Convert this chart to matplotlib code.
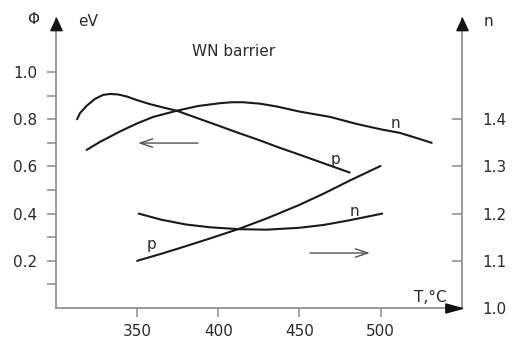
import matplotlib
matplotlib.use("Agg")
import matplotlib.pyplot as plt
from matplotlib.path import Path

# ---- data ----
T_p_upper = [313, 314.8, 318.9, 324.0, 329.0, 333.3, 338.2, 343.8, 349.9, 357.9, 365.9,
             374.4, 387, 400, 412, 425, 437, 450, 465, 481]
phi_p_upper = [0.800, 0.826, 0.857, 0.886, 0.903, 0.907, 0.905, 0.896, 0.881, 0.864, 0.850,
               0.836, 0.805, 0.773, 0.743, 0.712, 0.681, 0.650, 0.613, 0.574]

T_n_upper = [318.9, 327.1, 339.4, 349.9, 360.0, 374.4, 387.5, 401.1, 408.5, 415.2, 425.6,
             436.0, 450.4, 468.8, 485.3, 499.6, 512.0, 522.4, 531.5]
n_upper = [1.335, 1.352, 1.374, 1.391, 1.405, 1.418, 1.428, 1.434, 1.436, 1.436, 1.433,
           1.427, 1.416, 1.405, 1.390, 1.379, 1.371, 1.360, 1.350]

T_p_lower = [350, 365, 380, 395, 413, 430, 450, 465, 481, 500]
phi_p_lower = [0.200, 0.230, 0.262, 0.295, 0.336, 0.380, 0.437, 0.485, 0.540, 0.602]

T_n_lower = [351, 365, 380, 395, 413, 430, 450, 465, 481, 501]
n_lower = [1.200, 1.187, 1.177, 1.171, 1.167, 1.166, 1.170, 1.176, 1.186, 1.200]

x_ticks = [350, 400, 450, 500]
phi_major = [0.2, 0.4, 0.6, 0.8, 1.0]
phi_minor = [0.1, 0.3, 0.5, 0.7, 0.9]
n_ticks = [1.0, 1.1, 1.2, 1.3, 1.4]

# ---- figure ----
W, H = 514, 338
fig = plt.figure(figsize=(W / 100, H / 100), dpi=100)
plt.rcParams['font.family'] = ['DejaVu Sans']

ax_left, ax_right_px, ax_bottom_px, ax_top_px = 56, 461.7, 308, 18
ax = fig.add_axes([ax_left / W, 1 - ax_bottom_px / H,
                   (ax_right_px - ax_left) / W, (ax_bottom_px - ax_top_px) / H])
axc = '#8a8a8a'
txtc = '#2a2a2a'
fs = 11

ax.set_xlim(300, 550)
ymax = 1.229
ax.set_ylim(0, ymax)

ax2 = ax.twinx()
ax2.set_ylim(1.0, 1.0 + ymax / 2)

for a in (ax, ax2):
    for s in a.spines.values():
        s.set_visible(False)
    a.patch.set_visible(False)

ax.spines['left'].set_visible(True)
ax.spines['bottom'].set_visible(True)
ax2.spines['right'].set_visible(True)
for s in (ax.spines['left'], ax.spines['bottom'], ax2.spines['right']):
    s.set_color(axc)
    s.set_linewidth(1.2)

ax.set_xticks(x_ticks)
ax.set_xticklabels([str(v) for v in x_ticks])
ax.set_yticks(phi_major)
ax.set_yticklabels([f"{v:.1f}" for v in phi_major])
ax.set_yticks(phi_minor, minor=True)
ax.tick_params(axis='y', which='both', direction='out', length=6.5, width=1.1,
               color=axc, pad=7, labelsize=fs, labelcolor=txtc)
ax.tick_params(axis='x', which='both', direction='out', length=6.3, width=1.1,
               color=axc, pad=5.5, labelsize=fs, labelcolor=txtc)
ax2.set_yticks(n_ticks)
ax2.set_yticklabels([f"{v:.1f}" for v in n_ticks])
ax2.tick_params(axis='y', direction='in', length=7, width=1.1, color=axc,
                pad=15, labelsize=fs, labelcolor=txtc)

# axis arrowheads
up_head = Path([(0, 0), (-0.46, -1), (0.46, -1), (0, 0)],
               [Path.MOVETO, Path.LINETO, Path.LINETO, Path.CLOSEPOLY])
right_head = Path([(0, 0), (-1, 0.27), (-1, -0.27), (0, 0)],
                  [Path.MOVETO, Path.LINETO, Path.LINETO, Path.CLOSEPOLY])
kw = dict(transform=ax2.transAxes, clip_on=False, color='#111111', zorder=10)
ax2.plot([0], [1], marker=up_head, ms=17.5, ls='none', **kw)
ax2.plot([1], [1], marker=up_head, ms=17.5, ls='none', **kw)
ax2.plot([1], [0], marker=right_head, ms=24, ls='none', **kw)

# curves
lc = '#1a1a1a'
lw = 1.5
ax.plot(T_p_upper, phi_p_upper, color=lc, lw=lw, solid_capstyle='round', solid_joinstyle='round')
ax2.plot(T_n_upper, n_upper, color=lc, lw=lw, solid_capstyle='round', solid_joinstyle='round')
ax.plot(T_p_lower, phi_p_lower, color=lc, lw=lw, solid_capstyle='round', solid_joinstyle='round')
ax2.plot(T_n_lower, n_lower, color=lc, lw=lw, solid_capstyle='round', solid_joinstyle='round')

# curve labels
ax.text(509, 0.784, 'n', ha='center', va='center', fontsize=fs, color=txtc)
ax.text(472.5, 0.630, 'p', ha='center', va='center', fontsize=fs, color=txtc)
ax.text(484, 0.409, 'n', ha='center', va='center', fontsize=fs, color=txtc)
ax.text(359, 0.268, 'p', ha='center', va='center', fontsize=fs, color=txtc)

# direction arrows
arrow_left = ((387.5, 0.699), (350.5, 0.699))
arrow_right = ((456.5, 0.233), (493.5, 0.233))
for (x0, y0), (x1, y1) in (arrow_left, arrow_right):
    ax.annotate('', xy=(x1, y1), xytext=(x0, y0),
                arrowprops=dict(arrowstyle='->,head_length=0.9,head_width=0.3',
                                color='#555555', lw=1.0, shrinkA=0, shrinkB=0))

# texts
fig.text(33 / W, 1 - 20 / H, 'Φ', ha='center', va='center', fontsize=fs, color=txtc)
fig.text(88 / W, 1 - 21 / H, 'eV', ha='center', va='center', fontsize=fs, color=txtc)
fig.text(488 / W, 1 - 21 / H, 'n', ha='center', va='center', fontsize=fs, color=txtc)
fig.text(430 / W, 1 - 298 / H, 'T,°C', ha='center', va='center', fontsize=fs, color=txtc)
fig.text(234 / W, 1 - 52 / H, 'WN barrier', ha='center', va='center', fontsize=fs,
         color=txtc)

fig.savefig('out.png', dpi=100)
